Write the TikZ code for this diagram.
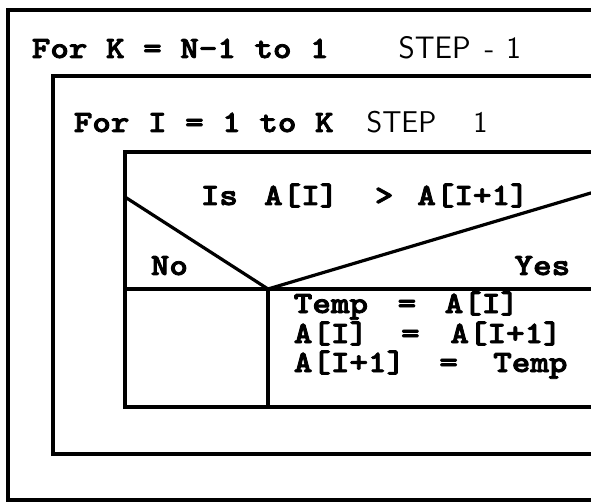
\documentclass[tikz,border=0pt]{standalone}
\usepackage{fontspec}
\newfontfamily\codefont{lmmonolt10-bold}[Extension=.otf,FakeBold=2.5]
\begin{document}
\begin{tikzpicture}[x=1pt,y=-1pt,line width=3.2pt,line join=miter,
  code/.style={font=\codefont\fontsize{31}{31}\selectfont,xscale=1.14,anchor=base west,inner sep=0pt},
  hand/.style={font=\sffamily\fontsize{31}{31}\selectfont,anchor=base west,inner sep=0pt},
  handsmall/.style={font=\sffamily\fontsize{30}{30}\selectfont,anchor=base west,inner sep=0pt}]
\useasboundingbox (0,0) rectangle (591,502);
\clip (0,0) rectangle (591,502);
% outer loop box
\coordinate (oTL) at (8,10);
\coordinate (oBL) at (8,500);
\coordinate (oTR) at (610,10);
\coordinate (oBR) at (610,500);
\draw (oTR) -- (oTL) -- (oBL) -- (oBR);
% inner loop box
\coordinate (iTL) at (53,76);
\coordinate (iBL) at (53,454);
\coordinate (iTR) at (610,76);
\coordinate (iBR) at (610,454);
\draw (iTR) -- (iTL) -- (iBL) -- (iBR);
% decision box
\coordinate (dTL) at (125,152);
\coordinate (dTR) at (610,152);
\coordinate (dBL) at (125,407);
\coordinate (dBR) at (610,407);
\coordinate (dML) at (125,289);
\coordinate (dMR) at (610,289);
\coordinate (v) at (268,289);
\coordinate (vB) at (268,407);
\coordinate (dSL) at (125,197);
\coordinate (dSR) at (610,187.3);
\draw (dTR) -- (dTL) -- (dBL) -- (dBR);
\draw (dML) -- (dMR);
\draw (dSL) -- (v) -- (dSR);
\draw (v) -- (vB);
% texts
\node[code] (fork) at (30,58) {For K = N-1 to 1};
\node[hand] (stepk) at (397,59) {STEP\hspace{14pt}-\hspace{12pt}1};
\node[code] (fori) at (72,132) {For I = 1 to K};
\node[handsmall] (stepi) at (365,133) {STEP\hspace{37pt}1};
\node[code] (cond) at (199,205) {Is\hspace{23pt}A[I]\hspace{32pt}>\hspace{21pt}A[I+1]};
\node[code] (no) at (149,275) {No};
\node[code,anchor=base east] (yes) at (572,275) {Yes};
\node[code] (l1) at (292,313) {Temp\hspace{26pt}=\hspace{25pt}A[I]};
\node[code] (l2) at (292,343) {A[I]\hspace{29pt}=\hspace{27pt}A[I+1]};
\node[code] (l3) at (292,372) {A[I+1]\hspace{30pt}=\hspace{31pt}Temp};
\end{tikzpicture}
\end{document}
